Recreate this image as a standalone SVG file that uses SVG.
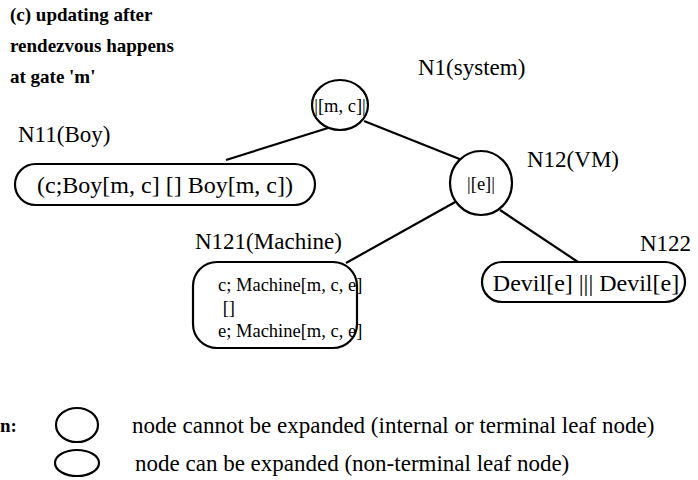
<svg xmlns="http://www.w3.org/2000/svg" width="698" height="480" viewBox="0 0 698 480">
<style>
.t{font-family:"Liberation Serif","Times New Roman",Times,serif;font-size:23px;fill:#000}
.b{font-family:"Liberation Serif","Times New Roman",Times,serif;font-size:19px;font-weight:bold;fill:#000}
.s{fill:#fff;stroke:#000;stroke-width:2.2}
.c{stroke:#000;stroke-width:2.2;fill:none}
.m{font-size:18.5px}
</style>
<rect width="698" height="480" fill="#fff"/>
<g id="title">
<text class="b" x="10" y="21">(c) updating after</text>
<text class="b" x="10" y="52">rendezvous happens</text>
<text class="b" x="10" y="83">at gate 'm'</text>
</g>
<g id="connectors">
<line class="c" x1="328" y1="128" x2="226" y2="160"/>
<line class="c" x1="364" y1="121" x2="462" y2="160"/>
<line class="c" x1="457" y1="201" x2="346" y2="263"/>
<line class="c" x1="500" y1="210" x2="587" y2="268"/>
</g>
<g id="N1">
<ellipse class="s" cx="340" cy="105" rx="28" ry="25"/>
<text class="t m" x="340" y="112" text-anchor="middle">|[m, c]|</text>
<text class="t" x="418" y="75">N1(system)</text>
</g>
<g id="N11">
<text class="t" x="18" y="142">N11(Boy)</text>
<rect class="s" x="15" y="164" width="300" height="41" rx="20.5"/>
<text class="t" x="165" y="193" text-anchor="middle" style="font-size:24px">(c;Boy[m, c] [] Boy[m, c])</text>
</g>
<g id="N12">
<ellipse class="s" cx="481" cy="183" rx="31" ry="32"/>
<text class="t m" x="481" y="190" text-anchor="middle">|[e]|</text>
<text class="t" x="527" y="167">N12(VM)</text>
</g>
<g id="N121">
<text class="t" x="195" y="249">N121(Machine)</text>
<rect class="s" x="193" y="262" width="164" height="86" rx="24"/>
<text class="t m" x="218" y="291">c; Machine[m, c, e]</text>
<text class="t m" x="218" y="314" xml:space="preserve"> []</text>
<text class="t m" x="218" y="337">e; Machine[m, c, e]</text>
</g>
<g id="N122">
<text class="t" x="640" y="251">N122</text>
<rect class="s" x="482" y="262" width="203" height="40" rx="20"/>
<text class="t" x="586" y="291" text-anchor="middle" style="font-size:24px">Devil[e] ||| Devil[e]</text>
</g>
<g id="legend">
<text class="b" x="0" y="432">n:</text>
<ellipse class="s" cx="77" cy="425" rx="21" ry="17"/>
<text class="t" x="132" y="433">node cannot be expanded (internal or terminal leaf node)</text>
<ellipse class="s" cx="77" cy="463" rx="22" ry="13"/>
<text class="t" x="135" y="471">node can be expanded (non-terminal leaf node)</text>
</g>
</svg>
